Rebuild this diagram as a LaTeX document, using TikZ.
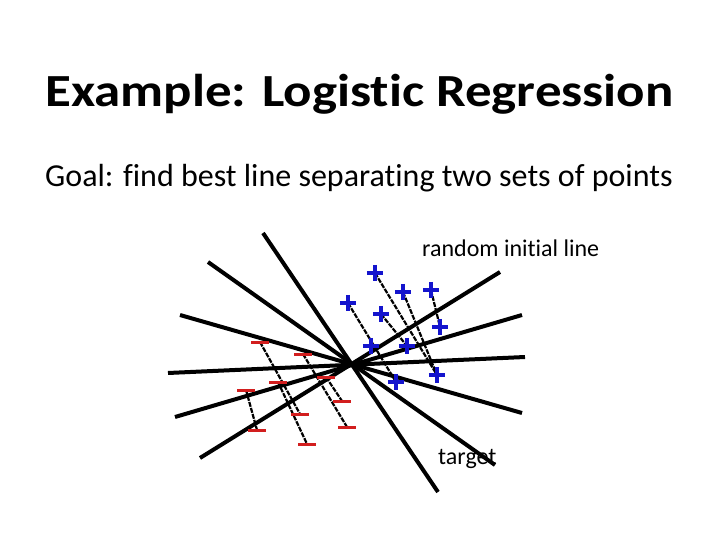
\documentclass[tikz,border=0pt]{standalone}
\usepackage{fontspec}
\setmainfont{Carlito}[Ligatures={NoCommon}]
\newfontfamily\titlefont{Carlito}[Ligatures={NoCommon}, FakeStretch=1.15]
\definecolor{plusblue}{RGB}{20,20,205}
\definecolor{minusred}{RGB}{210,30,30}
\tikzset{
  plusmark/.style={inner sep=0pt, minimum size=16pt},
  minusmark/.style={inner sep=0pt, minimum width=17pt, minimum height=3pt},
  plusline/.style={plusblue, line width=3.4pt},
  minusline/.style={minusred, line width=3pt},
  sepline/.style={line width=4pt, black},
  projline/.style={line width=2.2pt, black, dash pattern=on 5pt off 1.2pt}
}
\begin{document}
\begin{tikzpicture}[x=1pt,y=-1pt]
\useasboundingbox (0,0) rectangle (720,540);

% Title
\node[anchor=base west, inner sep=0pt, font=\titlefont\fontsize{46}{48}\selectfont\bfseries] (title) at (45,107) {Example: Logistic Regression};
\node[anchor=base west, inner sep=0pt, font=\fontsize{32}{36}\selectfont] (goal) at (45,187) {Goal: find best line separating two sets of points};

% Candidate lines through the pivot
\foreach \n/\xa/\ya/\xb/\yb in {1/263/233/438/492, 2/208/262/495/465, 3/180/315/522/413,
    4/168/373/525/357, 5/175/417/522/315, 6/200/458/500/272} {
  \coordinate (s\n) at (\xa,\ya);
  \coordinate (e\n) at (\xb,\yb);
}

% Points
\foreach \n/\x/\y in {p1/375/273, p2/348/303, p3/403/292, p4/431/290, p5/381/314,
    p6/440/327, p7/371/346, p8/407/346, p9/437/375, p10/396/382}
  \node[plusmark] (\n) at (\x,\y) {};
\foreach \n/\x/\y in {m1/260/342, m2/303/354, m3/278/382, m4/246/390, m5/326/377,
    m6/342/401, m7/300/414, m8/257/430, m9/347/427, m10/307/444}
  \node[minusmark] (\n) at (\x,\y) {};

% Dashed links
\foreach \a/\b in {p1/p9, p3/p9, p4/p6, p5/p8, p2/p10, m1/m7, m2/m9, m5/m6, m3/m10, m4/m8}
  \draw[projline] (\a.center) -- (\b.center);

% Lines
\foreach \n in {1,...,6}
  \draw[sepline] (s\n) -- (e\n);

% Marks
\foreach \n in {p1,p2,p3,p4,p5,p6,p7,p8,p9,p10}
  \draw[plusline] (\n.north) -- (\n.south) (\n.west) -- (\n.east);
\foreach \n in {m1,m2,m3,m4,m5,m6,m7,m8,m9,m10}
  \draw[minusline] (\n.west) -- (\n.east);

% Labels
\node[anchor=base west, inner sep=0pt, font=\fontsize{24}{28}\selectfont] (initlbl) at (422,256) {random initial line};
\node[anchor=base west, inner sep=0pt, font=\fontsize{24}{28}\selectfont] (targetlbl) at (438,464) {target};
\end{tikzpicture}
\end{document}
